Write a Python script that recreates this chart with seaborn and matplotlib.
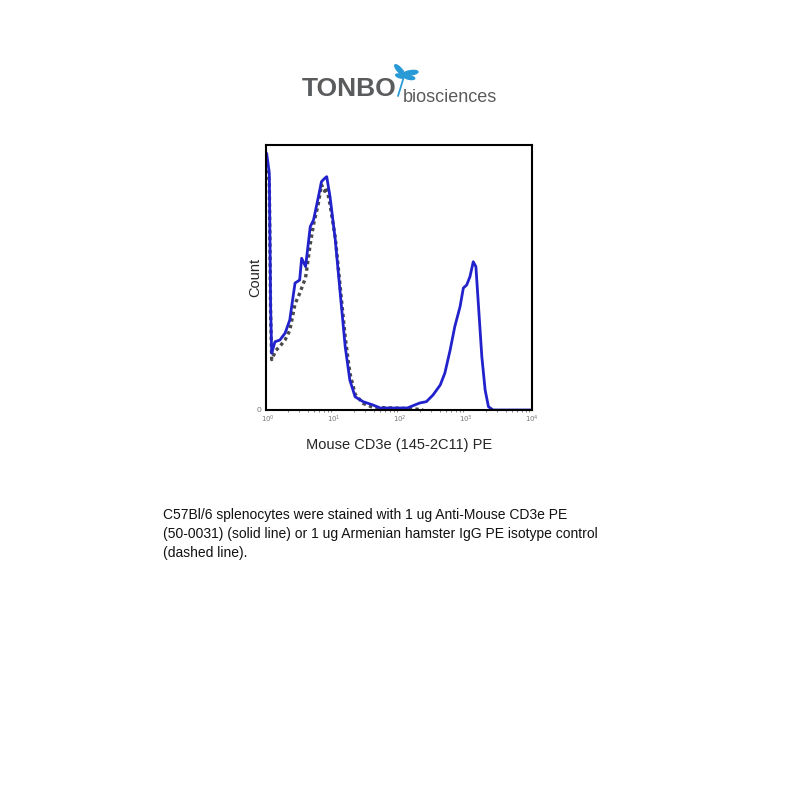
import numpy as np
import pandas as pd
import matplotlib
matplotlib.use("Agg")
import matplotlib.pyplot as plt
from matplotlib.patches import Ellipse
import seaborn as sns

# ---- data (log10 fluorescence, count) ----
cd3_log = [-0.03, -0.02, 0.02, 0.03, 0.04, 0.056, 0.106, 0.18, 0.26, 0.33, 0.38, 0.41, 0.48,
           0.51, 0.57, 0.64, 0.69, 0.76, 0.81, 0.86, 0.89, 0.94, 1.02, 1.09, 1.17, 1.24,
           1.32, 1.44, 1.59, 1.70, 2.11, 2.30, 2.40, 2.50, 2.61, 2.68, 2.76, 2.83, 2.91,
           2.96, 3.01, 3.06, 3.11, 3.15, 3.19, 3.24, 3.29, 3.34, 3.41, 4.0]
cd3_count = [190, 193.7, 178.9, 128.3, 78, 42.8, 51.5, 52.8, 58.1, 67.9, 85.5, 95.8, 98.1,
             114.5, 108.2, 138.3, 143.4, 160, 172.3, 174.9, 176.1, 161, 128.3, 90.6, 47.8, 22.6,
             10, 6.3, 3.8, 1.5, 1.5, 5.3, 6.3, 11.3, 18.9, 27.9, 45.3, 62.9, 78,
             92.1, 94.3, 100.6, 111.9, 108.2, 78, 40.2, 15.1, 2.5, 0, 0]

iso_log = [-0.03, -0.02, 0.02, 0.03, 0.04, 0.056, 0.12, 0.18, 0.26, 0.33, 0.41, 0.48, 0.57,
           0.64, 0.69, 0.76, 0.81, 0.86, 0.89, 0.94, 1.02, 1.09, 1.17, 1.24, 1.32, 1.44,
           1.59, 1.90, 2.20, 2.35]
iso_count = [185, 188, 172, 122, 72, 38, 45, 48, 53, 60, 80, 88, 100,
             125, 140, 155, 170, 165, 168, 155, 130, 95, 55, 28, 12, 5,
             2, 1.5, 1, 0]

xtick_vals = [1, 10, 100, 1000, 10000]
xtick_labels = ["$10^0$", "$10^1$", "$10^2$", "$10^3$", "$10^4$"]

cd3 = pd.DataFrame({"x": 10 ** np.array(cd3_log), "count": cd3_count})
iso = pd.DataFrame({"x": 10 ** np.array(iso_log), "count": iso_count})

sns.set_style("white")
plt.rcParams["font.family"] = ["Liberation Sans", "DejaVu Sans"]

fig = plt.figure(figsize=(8, 8), dpi=100)
ax = fig.add_axes([0.3325, 0.4875, 0.3325, 0.33125])

sns.lineplot(data=iso, x="x", y="count", ax=ax, color="#4a4a4a", linestyle=(0, (1, 1)),
             linewidth=2.4, sort=False)
sns.lineplot(data=cd3, x="x", y="count", ax=ax, color="#2222cc", linewidth=2.0, sort=False)

ax.set_xscale("log")
ax.set_xlim(10 ** -0.03, 10 ** 4)
ax.set_ylim(0, 200)
ax.set_xticks(xtick_vals)
ax.set_xticklabels(xtick_labels, fontsize=5, color="#777777")
ax.set_yticks([0])
ax.set_yticklabels(["0"], fontsize=6, color="#777777")
ax.tick_params(axis="x", which="major", direction="out", length=2, width=0.6, pad=1)
ax.tick_params(axis="x", which="minor", direction="out", length=1.5, width=0.4, bottom=True)
ax.tick_params(axis="y", direction="out", length=2, width=0.6, pad=1)
for s in ax.spines.values():
    s.set_color("black")
    s.set_linewidth(1.5)
ax.set_xlabel("Mouse CD3e (145-2C11) PE", fontsize=10.5, labelpad=9)
ax.set_ylabel("Count", fontsize=10.5, labelpad=-4)

# logo
fig.text(0.377, 0.880, "TONBO", fontsize=19, fontweight="bold", color="#5a5b5d",
         ha="left", va="baseline")
fig.text(0.503, 0.872, "biosciences", fontsize=13, color="#5a5b5d",
         ha="left", va="baseline")
blue = "#2a9ad6"
tf = fig.transFigure
fig.patches.append(Ellipse((0.4995, 0.9125), 0.017, 0.0055, angle=-48, color=blue, transform=tf))
fig.patches.append(Ellipse((0.5135, 0.9090), 0.018, 0.0055, angle=8, color=blue, transform=tf))
fig.patches.append(Ellipse((0.5000, 0.9050), 0.011, 0.0045, angle=-15, color=blue, transform=tf))
fig.patches.append(Ellipse((0.5120, 0.9030), 0.013, 0.0045, angle=-10, color=blue, transform=tf))
fig.lines.append(plt.Line2D([0.5055, 0.4975], [0.9060, 0.8800], color=blue, linewidth=1.3,
                            transform=tf))

caption = ("C57Bl/6 splenocytes were stained with 1 ug Anti-Mouse CD3e PE\n"
           "(50-0031) (solid line) or 1 ug Armenian hamster IgG PE isotype control\n"
           "(dashed line).")
fig.text(0.204, 0.365, caption, fontsize=10, color="#111111", ha="left", va="top",
         linespacing=1.45)

fig.savefig("out.png", dpi=100)
